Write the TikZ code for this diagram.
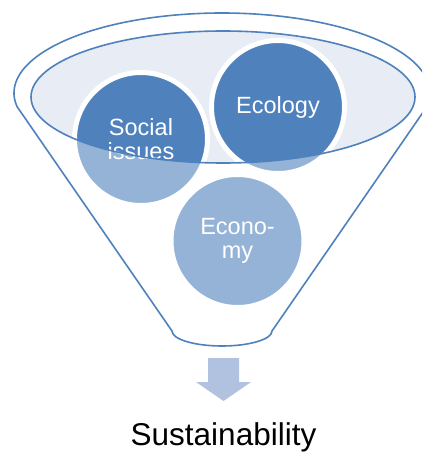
\documentclass[tikz,border=0pt]{standalone}
\usepackage{fontspec}
\setmainfont{Liberation Sans}
\definecolor{fblue}{HTML}{4F81BD}
\definecolor{ffill}{HTML}{E7ECF5}
\definecolor{farrow}{HTML}{B0C2E0}
\newcommand{\funnelpath}{(222,93) ++(170.26:208 and 80) arc[start angle=170.26, end angle=369.74, x radius=208, y radius=80] -- (272,331) arc[start angle=0, end angle=180, x radius=50, y radius=15] -- cycle}
\newcommand{\rimpath}{(223,97) ellipse[x radius=192, y radius=66]}
\tikzset{
  ball/.style={circle, fill=fblue, draw=white, line width=5pt, minimum size=133pt, inner sep=0pt,
    text=white, align=center, font=\fontsize{23.5}{24}\selectfont},
  outline/.style={draw=fblue, line width=1.6pt}
}
\begin{document}
\begin{tikzpicture}[x=1pt,y=-1pt]
\clip (0,0) rectangle (422,454);
% rim fill
\fill[ffill] \rimpath;
% balls
\node[ball] (social) at (141,139) {Social\\issues};
\node[ball] (ecology) at (278,107) {Ecology};
\node[ball] (economy) at (237.5,241) {Econo-\\my};
% translucent funnel body
\fill[white, fill opacity=0.4, even odd rule] \funnelpath \rimpath;
% outlines
\draw[outline] \rimpath;
\draw[outline, line join=round] \funnelpath;
% arrow
\fill[farrow] (208,358) -- (239,358) -- (239,382) -- (251,382) -- (223.5,401) -- (196,382) -- (208,382) -- cycle;
\node[anchor=base, font=\fontsize{31.5}{34}\selectfont, inner sep=0pt] (sust) at (223.5,445) {Sustainability};
\end{tikzpicture}
\end{document}
